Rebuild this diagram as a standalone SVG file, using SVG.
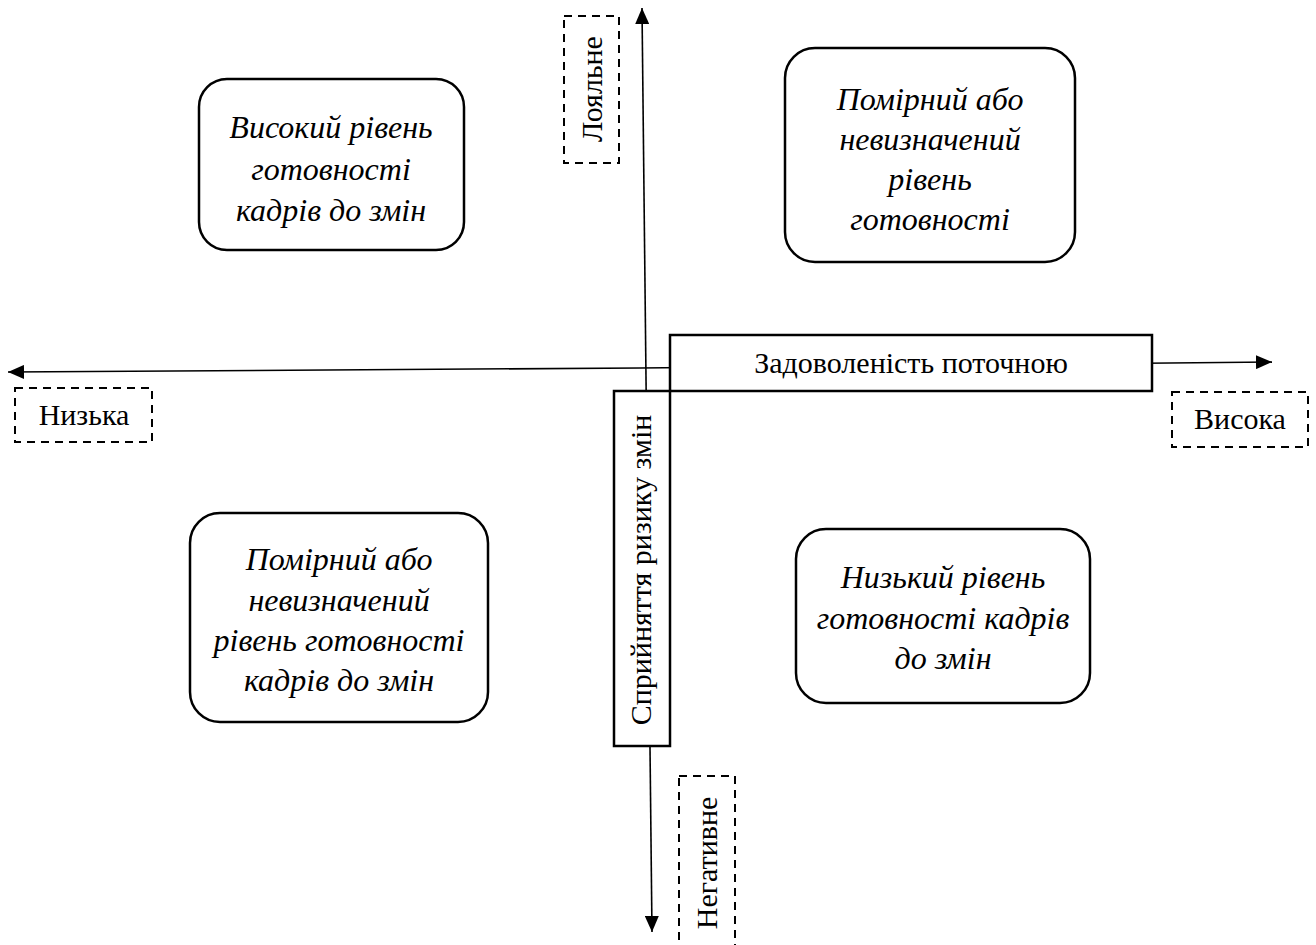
<svg xmlns="http://www.w3.org/2000/svg" width="1316" height="945" viewBox="0 0 1316 945">
  <style>
    .quad { fill: #fff; stroke: #000; stroke-width: 2.5; }
    .quad-text { font-family: 'Liberation Serif', 'DejaVu Serif', serif; font-style: italic; font-size: 32px; fill: #000; text-anchor: middle; }
    .label { font-family: 'Liberation Serif', 'DejaVu Serif', serif; font-size: 30px; fill: #000; text-anchor: middle; }
    .dashed { fill: none; stroke: #000; stroke-width: 2; stroke-dasharray: 8 6; }
    .axis-box { fill: #fff; stroke: #000; stroke-width: 2.5; }
    .axis { stroke: #000; stroke-width: 1.6; fill: none; }
  </style>
  <defs>
    <marker id="arrowL" viewBox="0 0 16 14" refX="16" refY="7" markerWidth="16" markerHeight="14" markerUnits="userSpaceOnUse" orient="auto">
      <path d="M0,0 L16,7 L0,14 Z" fill="#000"/>
    </marker>
  </defs>

  <rect width="1316" height="945" fill="#fff"/>

  <!-- axes -->
  <g id="connectors">
    <line class="axis" x1="647" y1="470" x2="642" y2="8" marker-end="url(#arrowL)"/>
    <line class="axis" x1="647" y1="470" x2="652" y2="932" marker-end="url(#arrowL)"/>
    <line class="axis" x1="640" y1="368" x2="8" y2="372" marker-end="url(#arrowL)"/>
    <line class="axis" x1="640" y1="368" x2="1272" y2="362" marker-end="url(#arrowL)"/>
  </g>

  <!-- axis title boxes -->
  <g id="axis-x">
    <rect class="axis-box" x="670" y="335" width="482" height="56"/>
    <text class="label" x="911" y="373" font-size="29.5">Задоволеність поточною</text>
  </g>
  <g id="axis-y">
    <rect class="axis-box" x="614" y="391" width="56" height="355"/>
    <text class="label" x="0" y="0" transform="translate(651,570) rotate(-90)">Сприйняття ризику змін</text>
  </g>

  <!-- axis end labels -->
  <g id="label-top">
    <rect class="dashed" x="564" y="16" width="55" height="147"/>
    <text class="label" x="0" y="0" transform="translate(602,89) rotate(-90)">Лояльне</text>
  </g>
  <g id="label-bottom">
    <rect class="dashed" x="679" y="776" width="56" height="180"/>
    <text class="label" x="0" y="0" transform="translate(717,863) rotate(-90)">Негативне</text>
  </g>
  <g id="label-left">
    <rect class="dashed" x="15" y="388" width="137" height="54"/>
    <text class="label" x="84" y="425">Низька</text>
  </g>
  <g id="label-right">
    <rect class="dashed" x="1172" y="392" width="136" height="55"/>
    <text class="label" x="1240" y="429">Висока</text>
  </g>

  <!-- quadrants -->
  <g id="q-top-left">
    <rect class="quad" x="199" y="79" width="265" height="171" rx="28"/>
    <text class="quad-text" x="331" y="138">Високий рівень</text>
    <text class="quad-text" x="331" y="180">готовності</text>
    <text class="quad-text" x="331" y="221">кадрів до змін</text>
  </g>
  <g id="q-top-right">
    <rect class="quad" x="785" y="48" width="290" height="214" rx="30"/>
    <text class="quad-text" x="930" y="110">Помірний або</text>
    <text class="quad-text" x="930" y="150">невизначений</text>
    <text class="quad-text" x="930" y="190">рівень</text>
    <text class="quad-text" x="930" y="230">готовності</text>
  </g>
  <g id="q-bottom-left">
    <rect class="quad" x="190" y="513" width="298" height="209" rx="30"/>
    <text class="quad-text" x="339" y="570">Помірний або</text>
    <text class="quad-text" x="339" y="611">невизначений</text>
    <text class="quad-text" x="339" y="651">рівень готовності</text>
    <text class="quad-text" x="339" y="691">кадрів до змін</text>
  </g>
  <g id="q-bottom-right">
    <rect class="quad" x="796" y="529" width="294" height="174" rx="30"/>
    <text class="quad-text" x="943" y="588">Низький рівень</text>
    <text class="quad-text" x="943" y="629">готовності кадрів</text>
    <text class="quad-text" x="943" y="669">до змін</text>
  </g>
</svg>
